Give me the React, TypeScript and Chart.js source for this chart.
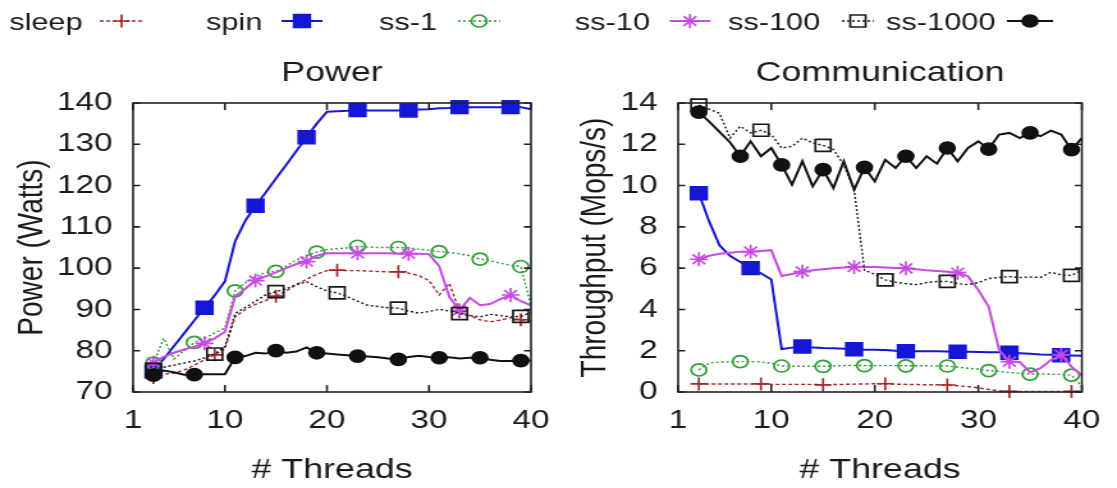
import React, { useEffect, useRef } from "react";
import { Chart, registerables } from "chart.js";

Chart.register(...registerables);

// ---------------- data ----------------
const THREADS = [3, 4, 5, 6, 7, 8, 9, 10, 11, 12, 13, 14, 15, 16, 17, 18, 19, 20, 21, 22, 23, 24, 25, 26, 27, 28, 29, 30, 31, 32, 33, 34, 35, 36, 37, 38, 39, 40];
const X_TICKS = [1, 10, 20, 30, 40];
const POWER_TICKS = [70, 80, 90, 100, 110, 120, 130, 140];
const COMM_TICKS = [0, 2, 4, 6, 8, 10, 12, 14];
const SERIES = ["sleep", "spin", "ss-1", "ss-10", "ss-100", "ss-1000"];

const POWER_SLEEP = [73.5, 74.3, 74.6, 75.3, 76.5, 77.8, 79, 80.5, 88.2, 90, 91.2, 92.2, 93.2, 94.5, 96, 97.3, 98.5, 99.4, 99.5, 99.4, 99.4, 99.3, 99.2, 99.1, 99.1, 98.8, 98.2, 97, 93.5, 96.3, 89.5, 88.5, 87.5, 87, 87.4, 88, 87.5, 87.2];
const POWER_SPIN = [75, 78, 81.1, 84.2, 87.3, 90.4, 93.4, 96.8, 106.5, 111.5, 115.1, 118.3, 121.7, 125, 128.4, 131.7, 135, 137.9, 138, 138.1, 138.3, 138.2, 138.2, 138.2, 138.2, 138.2, 138.4, 138.5, 138.7, 138.8, 139, 139, 139, 139, 139, 139, 139, 138.5];
const POWER_SS1 = [77, 83, 78, 80, 82, 83, 84.3, 85.5, 94.5, 96.5, 98, 99, 99.2, 100.5, 102, 103, 103.9, 104.5, 104.7, 104.9, 105.3, 105.1, 105, 105, 105, 104.9, 104.6, 104.3, 104, 103.8, 103.5, 103, 102.2, 101.8, 101.2, 100.7, 100.4, 91];
const POWER_SS10 = [77.1, 78.5, 79.5, 80.3, 81, 81.8, 83, 84.6, 93.1, 95, 97, 98, 99, 100, 101, 101.6, 103, 103.6, 103.6, 103.6, 103.6, 103.6, 103.6, 103.6, 103.5, 103.5, 103.5, 103.4, 100.5, 93, 89.8, 92.8, 91, 91.3, 92.5, 93.5, 92, 91];
const POWER_SS100 = [75.5, 76, 76.5, 77, 77.5, 78.3, 79.2, 81, 89, 90.5, 92, 93.5, 94.3, 95, 96, 96.7, 95.5, 94.5, 94, 93.1, 92, 91, 90.7, 90.4, 90.3, 89.6, 89.1, 89.5, 90, 89.6, 89, 88.5, 88.2, 88.8, 88.5, 88.2, 88.3, 89.3];
const POWER_SS1000 = [74.1, 75.2, 74.8, 74.2, 74.2, 74.3, 74.3, 74.3, 78.4, 78.7, 79.5, 79.3, 80, 79.5, 79.8, 80.8, 79.5, 79.3, 79.1, 78.9, 78.7, 78.6, 78.4, 78.1, 77.9, 78.5, 78.8, 78.5, 78.3, 78.4, 78.1, 78.3, 78.3, 77.8, 77.5, 77.5, 77.6, 77.6];

const COMM_SLEEP = [0.39, 0.39, 0.39, 0.39, 0.39, 0.39, 0.39, 0.37, 0.37, 0.37, 0.37, 0.37, 0.35, 0.36, 0.37, 0.38, 0.39, 0.4, 0.4, 0.38, 0.37, 0.36, 0.35, 0.35, 0.34, 0.3, 0.26, 0.2, 0.12, 0.06, 0.03, 0.03, 0.03, 0.03, 0.03, 0.03, 0.03, 0.03];
const COMM_SPIN = [9.63, 8.25, 7.1, 6.6, 6.3, 6.0, 5.75, 5.45, 2.08, 2.15, 2.2, 2.15, 2.13, 2.12, 2.1, 2.07, 2.05, 2.05, 2.03, 2.0, 1.97, 1.98, 1.98, 1.97, 1.96, 1.95, 1.95, 1.94, 1.93, 1.92, 1.9, 1.88, 1.85, 1.82, 1.8, 1.78, 1.77, 1.76];
const COMM_SS1 = [1.07, 1.4, 1.45, 1.46, 1.47, 1.47, 1.45, 1.4, 1.26, 1.25, 1.25, 1.25, 1.24, 1.26, 1.28, 1.29, 1.28, 1.28, 1.28, 1.28, 1.27, 1.27, 1.27, 1.26, 1.26, 1.2, 1.15, 1.1, 1.04, 1.0, 0.95, 0.9, 0.87, 0.87, 0.86, 0.85, 0.82, 0.28];
const COMM_SS10 = [6.43, 6.6, 6.7, 6.75, 6.8, 6.8, 6.83, 6.87, 5.62, 5.72, 5.83, 5.9, 5.95, 6.0, 6.03, 6.06, 6.06, 6.05, 6.03, 6.01, 5.99, 5.95, 5.9, 5.86, 5.82, 5.78, 5.6, 4.94, 4.13, 2.04, 1.47, 1.45, 0.95, 1.15, 1.55, 1.8, 1.23, 0.8];
const COMM_SS100 = [13.9, 13.7, 13.5, 12.3, 12.87, 12.55, 12.68, 12.47, 11.82, 11.9, 12.3, 12.06, 11.95, 11.75, 11.0, 9.8, 5.9, 5.7, 5.43, 5.32, 5.25, 5.2, 5.3, 5.35, 5.36, 5.25, 5.2, 5.3, 5.5, 5.55, 5.59, 5.55, 5.57, 5.55, 5.8, 5.67, 5.65, 5.9];
const COMM_SS1000 = [13.56, 13.1, 12.6, 12.1, 11.42, 12.14, 11.42, 11.82, 11.0, 10.04, 11.18, 9.96, 10.77, 9.88, 11.18, 9.8, 10.88, 10.2, 11.25, 10.85, 11.42, 10.85, 11.42, 11.06, 11.82, 11.18, 11.82, 12.14, 11.77, 12.47, 12.55, 12.3, 12.55, 12.39, 12.66, 12.47, 11.74, 12.3];

// ---------------- layout / style ----------------
const LW = 873; // logical canvas width (stretched horizontally to 1117 px)
const LH = 488;
const FAMILY = "'Liberation Sans', Arial, Helvetica, sans-serif";
const FS = 26;
const TITLE_FS = 28;
const LEGEND_FS = 24;
const TEXT = "#1a1a1a";

type St = { color: string; point: string; dash: number[]; every: number; r: number; fill: boolean; width: number };
const STYLES: St[] = [
  { color: "#a3282a", point: "cross", dash: [3, 2], every: 6, r: 6.5, fill: false, width: 1.4 },
  { color: "#1616d6", point: "rect", dash: [], every: 5, r: 9, fill: true, width: 2 },
  { color: "#2f9e35", point: "circle", dash: [2, 2], every: 4, r: 6, fill: false, width: 1.4 },
  { color: "#c84ae6", point: "star", dash: [], every: 5, r: 7, fill: false, width: 2 },
  { color: "#1a1a1a", point: "rect", dash: [2, 2], every: 6, r: 8.5, fill: false, width: 1.4 },
  { color: "#111111", point: "circle", dash: [], every: 4, r: 6, fill: true, width: 2 },
];

const LEGEND_POS = [
  { tr: 64.5, x1: 78, x2: 112 },
  { tr: 205, x1: 220, x2: 252 },
  { tr: 341.5, x1: 358, x2: 391 },
  { tr: 508, x1: 523.5, x2: 555 },
  { tr: 641, x1: 658, x2: 683 },
  { tr: 778, x1: 787, x2: 823 },
];

function makeDatasets(series: number[][]) {
  return series.map((vals, i) => {
    const st = STYLES[i];
    return {
      label: SERIES[i],
      data: THREADS.map((t, k) => ({ x: t, y: vals[k] })),
      borderColor: st.color,
      backgroundColor: st.fill ? st.color : "rgba(0,0,0,0)",
      borderWidth: st.width,
      borderDash: st.dash,
      pointStyle: st.point,
      pointRadius: (c: any) => (c.dataIndex % st.every === 0 ? st.r : 0),
      pointBorderColor: st.color,
      pointBackgroundColor: st.fill ? st.color : "rgba(0,0,0,0)",
      pointBorderWidth: 1.7,
      tension: 0,
      fill: false,
      order: SERIES.length - i,
      clip: 12,
    };
  });
}

function drawMarker(ctx: CanvasRenderingContext2D, st: St, x: number, y: number) {
  const r = st.r;
  ctx.save();
  ctx.setLineDash([]);
  ctx.lineWidth = 1.7;
  ctx.strokeStyle = st.color;
  ctx.fillStyle = st.color;
  ctx.beginPath();
  if (st.point === "rect") {
    const s = r * Math.SQRT1_2;
    ctx.rect(x - s, y - s, 2 * s, 2 * s);
    if (st.fill) ctx.fill();
    ctx.stroke();
  } else if (st.point === "circle") {
    ctx.arc(x, y, r, 0, Math.PI * 2);
    if (st.fill) ctx.fill();
    ctx.stroke();
  } else if (st.point === "cross") {
    ctx.moveTo(x - r, y); ctx.lineTo(x + r, y);
    ctx.moveTo(x, y - r); ctx.lineTo(x, y + r);
    ctx.stroke();
  } else if (st.point === "star") {
    ctx.moveTo(x - r, y); ctx.lineTo(x + r, y);
    ctx.moveTo(x, y - r); ctx.lineTo(x, y + r);
    const d = r * Math.SQRT1_2;
    ctx.moveTo(x - d, y - d); ctx.lineTo(x + d, y + d);
    ctx.moveTo(x - d, y + d); ctx.lineTo(x + d, y - d);
    ctx.stroke();
  }
  ctx.restore();
}

function framePlugin(title: string, withLegend: boolean) {
  return {
    id: "frame-" + title,
    afterDraw(chart: any) {
      const { ctx, chartArea: a, scales } = chart;
      ctx.save();
      ctx.strokeStyle = "#222";
      ctx.lineWidth = 1.6;
      ctx.setLineDash([]);
      ctx.strokeRect(a.left, a.top, a.right - a.left, a.bottom - a.top);
      const tlx = 5.5;
      const tly = 7;
      ctx.beginPath();
      scales.y.ticks.forEach((t: any) => {
        const y = scales.y.getPixelForValue(t.value);
        ctx.moveTo(a.left, y); ctx.lineTo(a.left + tlx, y);
        ctx.moveTo(a.right, y); ctx.lineTo(a.right - tlx, y);
      });
      scales.x.ticks.forEach((t: any) => {
        const x = scales.x.getPixelForValue(t.value);
        ctx.moveTo(x, a.bottom); ctx.lineTo(x, a.bottom - tly);
        ctx.moveTo(x, a.top); ctx.lineTo(x, a.top + tly);
      });
      ctx.stroke();

      // panel title
      ctx.fillStyle = TEXT;
      ctx.font = `${TITLE_FS}px ${FAMILY}`;
      ctx.textAlign = "center";
      ctx.textBaseline = "alphabetic";
      ctx.fillText(title, (a.left + a.right) / 2, 81);

      if (withLegend) {
        ctx.font = `${LEGEND_FS}px ${FAMILY}`;
        SERIES.forEach((name, i) => {
          const p = LEGEND_POS[i];
          const st = STYLES[i];
          ctx.fillStyle = TEXT;
          ctx.textAlign = "right";
          ctx.fillText(name, p.tr, 30);
          ctx.save();
          ctx.strokeStyle = st.color;
          ctx.lineWidth = st.width;
          ctx.setLineDash(st.dash);
          ctx.beginPath();
          ctx.moveTo(p.x1, 21);
          ctx.lineTo(p.x2, 21);
          ctx.stroke();
          ctx.restore();
          drawMarker(ctx, st, (p.x1 + p.x2) / 2, 21);
        });
      }
      ctx.restore();
    },
  };
}

function makeConfig(opts: {
  title: string;
  series: number[][];
  yMin: number;
  yMax: number;
  yTicks: number[];
  yTitle: string;
  padLeft: number;
  padRight: number;
  yWidth: number;
  yTitlePad: number;
  legend: boolean;
}) {
  const font = { family: FAMILY, size: FS };
  const tfont = { family: FAMILY, size: TITLE_FS };
  return {
    type: "line" as const,
    data: { datasets: makeDatasets(opts.series) as any },
    options: {
      responsive: false,
      animation: false as const,
      events: [] as any,
      layout: { padding: { left: opts.padLeft, right: opts.padRight, top: 103, bottom: 0 } },
      plugins: { legend: { display: false }, tooltip: { enabled: false }, title: { display: false } },
      scales: {
        x: {
          type: "linear" as const,
          min: 1,
          max: 40,
          afterBuildTicks: (s: any) => { s.ticks = X_TICKS.map((v) => ({ value: v })); },
          afterFit: (s: any) => { s.height = 96; },
          grid: { display: false, drawTicks: false },
          border: { display: false },
          ticks: { font, color: TEXT, padding: 13, maxRotation: 0, autoSkip: false },
          title: { display: true, text: "# Threads", font: tfont, color: TEXT, padding: { top: 0, bottom: 1 } },
        },
        y: {
          type: "linear" as const,
          min: opts.yMin,
          max: opts.yMax,
          afterBuildTicks: (s: any) => { s.ticks = opts.yTicks.map((v) => ({ value: v })); },
          afterFit: (s: any) => { s.width = opts.yWidth; },
          grid: { display: false, drawTicks: false },
          border: { display: false },
          ticks: { font, color: TEXT, padding: 16 },
          title: { display: true, text: opts.yTitle, font: tfont, color: TEXT, padding: { top: opts.yTitlePad, bottom: 0 } },
        },
      },
    },
    plugins: [framePlugin(opts.title, opts.legend)],
  };
}

export default function App() {
  const refA = useRef<HTMLCanvasElement>(null);
  const refB = useRef<HTMLCanvasElement>(null);

  useEffect(() => {
    const a = new Chart(
      refA.current as HTMLCanvasElement,
      makeConfig({
        title: "Power",
        series: [POWER_SLEEP, POWER_SPIN, POWER_SS1, POWER_SS10, POWER_SS100, POWER_SS1000],
        yMin: 70,
        yMax: 140,
        yTicks: POWER_TICKS,
        yTitle: "Power (Watts)",
        padLeft: 0,
        padRight: LW - 415,
        yWidth: 104,
        yTitlePad: 8,
        legend: true,
      }) as any
    );
    const b = new Chart(
      refB.current as HTMLCanvasElement,
      makeConfig({
        title: "Communication",
        series: [COMM_SLEEP, COMM_SPIN, COMM_SS1, COMM_SS10, COMM_SS100, COMM_SS1000],
        yMin: 0,
        yMax: 14,
        yTicks: COMM_TICKS,
        yTitle: "Throughput (Mops/s)",
        padLeft: 438,
        padRight: LW - 854,
        yWidth: 92,
        yTitlePad: 10,
        legend: false,
      }) as any
    );
    return () => {
      a.destroy();
      b.destroy();
    };
  }, []);

  const cstyle: React.CSSProperties = { position: "absolute", left: 0, top: 0, width: "1117px", height: "488px" };
  return (
    <div style={{ position: "absolute", left: 0, top: 0, width: 1117, height: 488, background: "#fff", overflow: "hidden" }}>
      <canvas ref={refA} width={LW} height={LH} style={cstyle} />
      <canvas ref={refB} width={LW} height={LH} style={cstyle} />
    </div>
  );
}
